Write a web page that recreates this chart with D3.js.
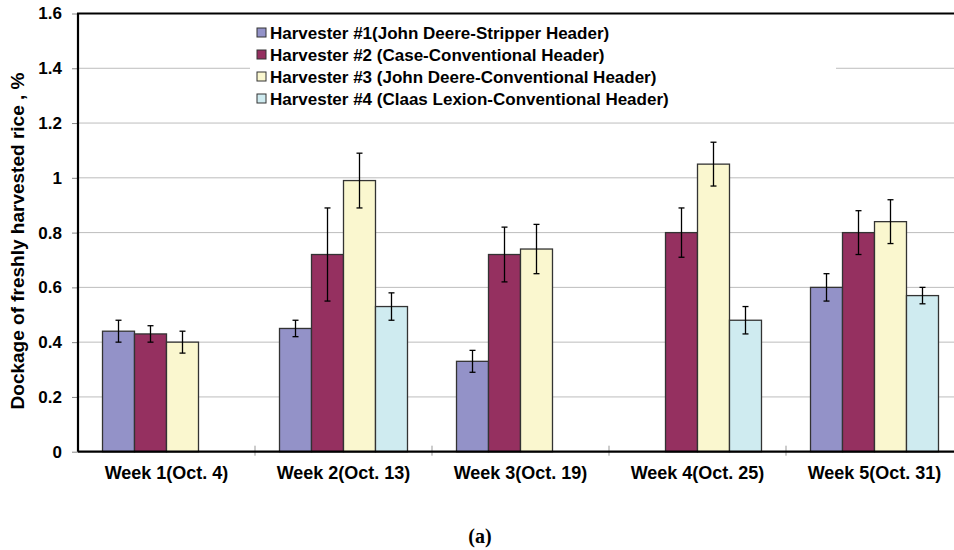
<!DOCTYPE html>
<html>
<head>
<meta charset="utf-8">
<script src="https://cdn.jsdelivr.net/npm/d3@7"></script>
<style>
  body { margin: 0; background: #fff; }
  text { font-family: "Liberation Sans", Arial, sans-serif; font-weight: bold; fill: #000; }
</style>
</head>
<body>
<svg id="chart" width="954" height="550"></svg>
<script>
// data
var weeks = ["Week 1(Oct. 4)", "Week 2(Oct. 13)", "Week 3(Oct. 19)", "Week 4(Oct. 25)", "Week 5(Oct. 31)"];
var harvesters = [
   "Harvester #1(John Deere-Stripper Header)",
   "Harvester #2 (Case-Conventional Header)",
   "Harvester #3 (John Deere-Conventional Header)",
   "Harvester #4 (Claas Lexion-Conventional Header)"
];
var colors = ["#9392C8", "#953060", "#FAF7CF", "#CFEBF0"];
// mean dockage, % (null = not sampled)
var h1 = [0.44, 0.45, 0.33, null, 0.60];
var h2 = [0.43, 0.72, 0.72, 0.80, 0.80];
var h3 = [0.40, 0.99, 0.74, 1.05, 0.84];
var h4 = [null, 0.53, null, 0.48, 0.57];
// error bar half widths
var e1 = [0.04, 0.03, 0.04, null, 0.05];
var e2 = [0.03, 0.17, 0.10, 0.09, 0.08];
var e3 = [0.04, 0.10, 0.09, 0.08, 0.08];
var e4 = [null, 0.05, null, 0.05, 0.03];
var yTicks = [0, 0.2, 0.4, 0.6, 0.8, 1, 1.2, 1.4, 1.6];

var series = [h1, h2, h3, h4];
var errs = [e1, e2, e3, e4];

var svg_canvas = d3.select("#chart");
var plotL = 78, plotT = 13.5, plotB = 451.7, bandW = 177;

var x = d3.scaleBand().domain(weeks).range([plotL, plotL + bandW * weeks.length]);
// 4 bars of ~32px centred in each week
var xs = d3.scaleBand().domain(d3.range(4)).range([0, bandW]).paddingInner(0).paddingOuter(0.766);
var y = d3.scaleLinear().domain([0, 1.6]).range([plotB, plotT]);

// gridlines
svg_canvas.append("g").selectAll("line")
   .data(yTicks.filter(function(d) { return d > 0 && d < 1.6; }))
   .enter().append("line")
   .attr("x1", plotL).attr("x2", 954)
   .attr("y1", function(d) { return y(d); }).attr("y2", function(d) { return y(d); })
   .attr("stroke", "#BDBDBD").attr("stroke-width", 1);

// bars
var rows = [];
series.forEach(function(s, i) {
   s.forEach(function(v, j) {
      if (v != null) rows.push({ s: i, w: weeks[j], v: v, e: errs[i][j] });
   });
});

var grp_bars = svg_canvas.append("g");
grp_bars.selectAll("rect").data(rows).enter().append("rect")
   .attr("x", function(d) { return x(d.w) + xs(d.s); })
   .attr("width", xs.bandwidth())
   .attr("y", function(d) { return y(d.v); })
   .attr("height", function(d) { return plotB - y(d.v); })
   .attr("fill", function(d) { return colors[d.s]; })
   .attr("stroke", "#333").attr("stroke-width", 1.3);

// error bars
var grp_err = svg_canvas.append("g").attr("stroke", "#000").attr("stroke-width", 1.3);
rows.forEach(function(d) {
   var cx = x(d.w) + xs(d.s) + xs.bandwidth() / 2;
   grp_err.append("line").attr("x1", cx).attr("x2", cx)
      .attr("y1", y(d.v + d.e)).attr("y2", y(d.v - d.e));
   [d.v + d.e, d.v - d.e].forEach(function(t) {
      grp_err.append("line").attr("x1", cx - 3).attr("x2", cx + 3)
         .attr("y1", y(t)).attr("y2", y(t));
   });
});

// legend (white box hides the gridline behind it)
var grp_legend = svg_canvas.append("g");
grp_legend.append("rect").attr("x", 250).attr("y", 22).attr("width", 586).attr("height", 88).attr("fill", "#fff");
harvesters.forEach(function(h, i) {
   var ly = 32.5 + i * 22;
   grp_legend.append("rect").attr("x", 257).attr("y", ly - 4.5).attr("width", 9).attr("height", 9)
      .attr("fill", colors[i]).attr("stroke", "#333").attr("stroke-width", 1);
   grp_legend.append("text").attr("x", 270).attr("y", ly + 6)
      .style("font-size", "17px").text(h);
});

// y axis
var yAxis = d3.axisLeft(y).tickValues(yTicks).tickSize(6).tickPadding(10)
   .tickFormat(function(d) { return String(+d.toFixed(1)); });
var gy = svg_canvas.append("g").attr("transform", "translate(" + plotL + ",0)").call(yAxis);
gy.select(".domain").remove();
gy.selectAll("line").attr("stroke", "#888");
gy.selectAll("text").attr("font-family", null).attr("font-size", null).style("font-size", "17px");

// x axis
var gx = svg_canvas.append("g").attr("transform", "translate(0," + plotB + ")");
gx.selectAll("line.tk").data(weeks.slice(1)).enter().append("line")
   .attr("x1", function(d) { return x(d); }).attr("x2", function(d) { return x(d); })
   .attr("y1", -6).attr("y2", 4).attr("stroke", "#999");
gx.selectAll("text").data(weeks).enter().append("text")
   .attr("x", function(d) { return x(d) + bandW / 2; }).attr("y", 27)
   .attr("text-anchor", "middle").style("font-size", "18px")
   .text(function(d) { return d; });

// frame: left axis, baseline, top border
svg_canvas.append("line").attr("x1", plotL).attr("x2", 954).attr("y1", plotB).attr("y2", plotB)
   .attr("stroke", "#000").attr("stroke-width", 2.2);
svg_canvas.append("line").attr("x1", plotL).attr("x2", plotL).attr("y1", plotT).attr("y2", plotB)
   .attr("stroke", "#000").attr("stroke-width", 2.2);
svg_canvas.append("line").attr("x1", plotL - 1).attr("x2", 954).attr("y1", plotT).attr("y2", plotT)
   .attr("stroke", "#000").attr("stroke-width", 2.2);

// axis title
svg_canvas.append("text")
   .attr("transform", "translate(24,241) rotate(-90)")
   .attr("text-anchor", "middle").style("font-size", "19px")
   .text("Dockage of freshly harvested rice , %");

// caption
svg_canvas.append("text").attr("x", 480).attr("y", 543).attr("text-anchor", "middle")
   .style("font-family", "'Liberation Serif', 'Times New Roman', serif").style("font-size", "20px")
   .text("(a)");
</script>
</body>
</html>
